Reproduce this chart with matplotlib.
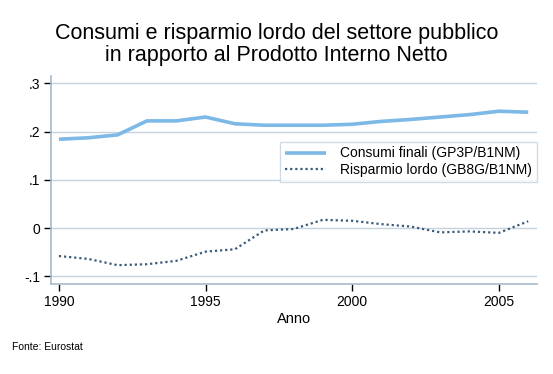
import matplotlib.pyplot as plt

anni = [1990, 1991, 1992, 1993, 1994, 1995, 1996, 1997, 1998,
        1999, 2000, 2001, 2002, 2003, 2004, 2005, 2006]
consumi = [0.184, 0.187, 0.193, 0.222, 0.222, 0.230, 0.216, 0.213, 0.213,
           0.213, 0.215, 0.221, 0.225, 0.230, 0.235, 0.242, 0.240]
risparmio = [-0.058, -0.064, -0.077, -0.075, -0.068, -0.049, -0.044, -0.005, -0.002,
             0.017, 0.015, 0.008, 0.003, -0.009, -0.007, -0.010, 0.014]

yticks = [-0.1, 0, 0.1, 0.2, 0.3]
ylabels = ['-.1', '0', '.1', '.2', '.3']
xticks = [1990, 1995, 2000, 2005]

plt.rcParams['font.family'] = ['Liberation Sans', 'DejaVu Sans']

fig = plt.figure(figsize=(5.53, 3.74), dpi=100)
ax = fig.add_axes([51 / 553, 0.2406, 486 / 553, 0.5562])

ax.plot(anni, consumi, color='#7cb9e6', lw=2.6, solid_capstyle='butt',
        label='Consumi finali (GP3P/B1NM)')
ax.plot(anni, risparmio, color='#3b5b78', lw=1.6, linestyle=(0, (1, 1.3)),
        label='Risparmio lordo (GB8G/B1NM)')

ax.set_xlim(1989.73, 2006.3)
ax.set_ylim(-0.116, 0.315)
ax.set_yticks(yticks)
ax.set_yticklabels(ylabels)
ax.set_xticks(xticks)
ax.grid(axis='y', color='#c6d3df', lw=1)
ax.set_axisbelow(True)

for s in ['top', 'right']:
    ax.spines[s].set_visible(False)
for s in ['left', 'bottom']:
    ax.spines[s].set_color('#a9b9c9')
    ax.spines[s].set_linewidth(1.2)
ax.tick_params(axis='both', length=5, width=1, color='#000000', labelsize=10, pad=3)
ax.set_xlabel('Anno', fontsize=10.5, labelpad=2)

leg = ax.legend(loc='upper right', bbox_to_anchor=(1.0, 0.685), fontsize=10,
                frameon=True, fancybox=False, handlelength=3.0, borderpad=0.35,
                labelspacing=0.2, handletextpad=1.0, borderaxespad=0)
leg.get_frame().set_edgecolor('#c6d3df')
leg.get_frame().set_linewidth(1)

fig.text(0.5, 1 - 23 / 374, 'Consumi e risparmio lordo del settore pubblico\nin rapporto al Prodotto Interno Netto',
         ha='center', va='top', fontsize=15.5, linespacing=1.08)
fig.text(12 / 553, 1 - 347 / 374, 'Fonte: Eurostat', ha='left', va='center', fontsize=7.5)

fig.savefig('out.png', dpi=100)
